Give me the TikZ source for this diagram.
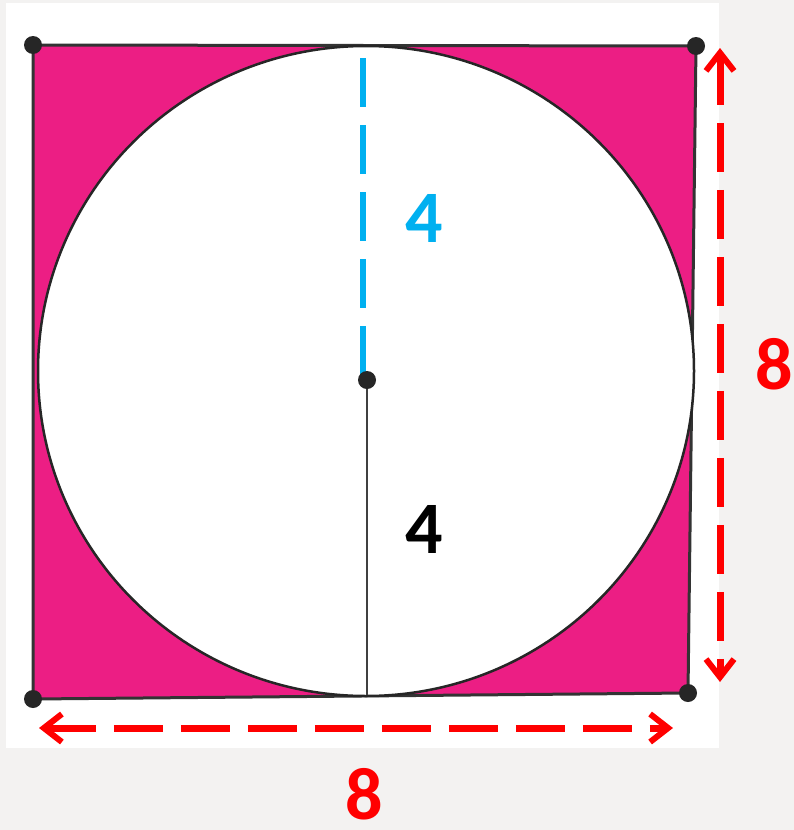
\documentclass[tikz,border=0pt]{standalone}
\usepackage{fontspec}
\setmainfont{Carlito}
\usetikzlibrary{arrows.meta}
\definecolor{pinkfill}{HTML}{EC1E84}
\definecolor{lineblue}{HTML}{00B0F0}
\definecolor{pagegrey}{HTML}{F3F2F1}
\begin{document}
\begin{tikzpicture}[
x=1pt, y=-1pt,
dot/.style={circle, fill=black!85, inner sep=0pt, minimum size=18pt},
dim/.style={{Straight Barb[length=18pt, width=28pt, line width=6pt]}-{Straight Barb[length=18pt, width=28pt, line width=6pt]}, red, line width=7pt, dash pattern=on 49pt off 18pt},
num/.style={font=\bfseries\fontsize{74}{74}\selectfont, inner sep=0pt}
]
% page and photo
\fill[pagegrey] (0,0) rectangle (794,830);
\fill[white] (6,3) rectangle (719,748);
\useasboundingbox (0,0) rectangle (794,830);
% square corners and centre
\coordinate (tl) at (33,45);
\coordinate (tr) at (696,46);
\coordinate (br) at (688,693);
\coordinate (bl) at (33,699);
\coordinate (o) at (367,380);
\coordinate (top) at (363,58);
\coordinate (foot) at (367,695);
% shaded square with the circle cut out
\filldraw[fill=pinkfill, draw=black!80, line width=3pt, line join=round] (tl) -- (tr) -- (br) -- (bl) -- cycle;
\filldraw[fill=white, draw=black!85, line width=2.5pt] (366,371) ellipse [x radius=328, y radius=325];
% radii
\draw[lineblue, line width=6pt, dash pattern=on 49pt off 18pt] (top) -- (363,375);
\draw[black!75, line width=2pt] (o) -- (foot);
\node[dot] (tldot) at (tl) {};
\node[dot] (trdot) at (tr) {};
\node[dot] (brdot) at (br) {};
\node[dot] (bldot) at (bl) {};
\node[dot] (odot) at (o) {};
% labels
\node[num, lineblue] (rup) at (424,218) {4};
\node[num, black] (rdown) at (424,529) {4};
% measurements
\coordinate (vtop) at (720,48);
\coordinate (vbot) at (720,682);
\coordinate (hleft) at (39,728);
\coordinate (hright) at (673,728);
\draw[dim] (vtop) -- (vbot);
\draw[dim] (hleft) -- (hright);
\node[num, red] (side) at (774,364) {8};
\node[num, red] (base) at (364,794) {8};
\end{tikzpicture}
\end{document}
